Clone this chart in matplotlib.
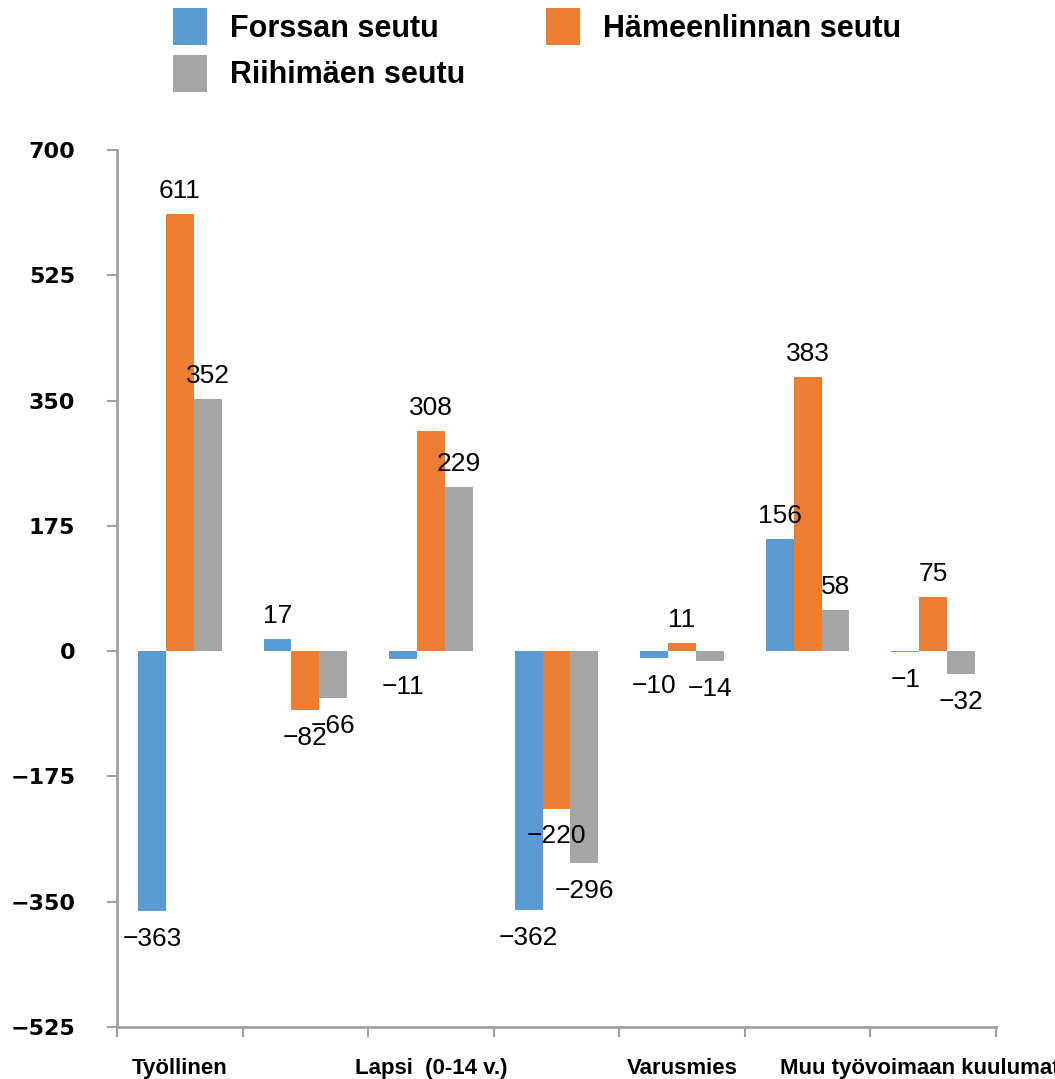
import matplotlib
matplotlib.use("Agg")
import matplotlib.pyplot as plt
from matplotlib.patches import Patch
import numpy as np

categories = ["Työllinen", "Työtön", "Lapsi  (0-14 v.)", "Opiskelija", "Varusmies", "Eläkeläinen", "Muu työvoimaan kuulumaton"]
shown_labels = [True, False, True, False, True, False, True]
series_names = ["Forssan seutu", "Hämeenlinnan seutu", "Riihimäen seutu"]
forssa = [-363, 17, -11, -362, -10, 156, -1]
hameenlinna = [611, -82, 308, -220, 11, 383, 75]
riihimaki = [352, -66, 229, -296, -14, 58, -32]
y_ticks = [-525, -350, -175, 0, 175, 350, 525, 700]

colors = ["#5B9BD5", "#ED7D31", "#A5A5A5"]
series = [forssa, hameenlinna, riihimaki]

fig = plt.figure(figsize=(10.55, 10.79), dpi=100)
ax = fig.add_axes([117/1055, 1-1027/1079, (996-117)/1055, (1027-150)/1079])

x = np.arange(len(categories))
bw = 0.222
for i, (vals, col) in enumerate(zip(series, colors)):
    xs = x + (i - 1) * bw
    ax.bar(xs, vals, width=bw, color=col, edgecolor='none')
    for xi, v in zip(xs, vals):
        txt = f"{v}".replace("-", "\u2212")
        off = 11.5 if v >= 0 else -25
        ax.annotate(txt, (xi, v), xytext=(0, off), textcoords='offset points',
                    ha='center', va='baseline', fontsize=19,
                    family=['Liberation Sans', 'DejaVu Sans'], color='black',
                    annotation_clip=False)

ax.set_xlim(-0.5, len(categories) - 0.5)
ax.set_ylim(-525, 700)
ax.set_yticks(y_ticks)
ax.set_yticklabels([f"{t}".replace("-", "\u2212") for t in y_ticks],
                   fontsize=16, fontweight='bold', family='DejaVu Sans')
ax.set_xticks(np.arange(-0.5, len(categories) + 0.5, 1.0))
ax.set_xticklabels([])
ax.set_xticks(x, minor=True)
ax.set_xticklabels([c if s else "" for c, s in zip(categories, shown_labels)], minor=True,
                   fontsize=16, fontweight='bold', family=['Liberation Sans', 'DejaVu Sans'])
ax.tick_params(axis='x', which='minor', length=0, pad=22)
ax.tick_params(axis='x', which='major', length=7, width=1.5, color='#A0A0A0', direction='out')
ax.tick_params(axis='y', length=7, width=1.5, color='#A0A0A0', direction='out', pad=23)

for s in ['top', 'right']:
    ax.spines[s].set_visible(False)
for s in ['left', 'bottom']:
    ax.spines[s].set_color('#A0A0A0')
    ax.spines[s].set_linewidth(2)

handles = [Patch(facecolor=c, edgecolor='none') for c in colors]
order = [0, 2, 1]
leg = fig.legend([handles[i] for i in order], [series_names[i] for i in order],
                 loc='upper left', bbox_to_anchor=(173/1055, 1 - 8/1079), ncol=2,
                 frameon=False, borderpad=0, borderaxespad=0,
                 handlelength=1.11, handleheight=1.49, handletextpad=0.75,
                 columnspacing=2.65, labelspacing=0.32,
                 prop={'family': ['Liberation Sans', 'DejaVu Sans'], 'weight': 'bold', 'size': 22})

fig.savefig("out.png", dpi=100)
